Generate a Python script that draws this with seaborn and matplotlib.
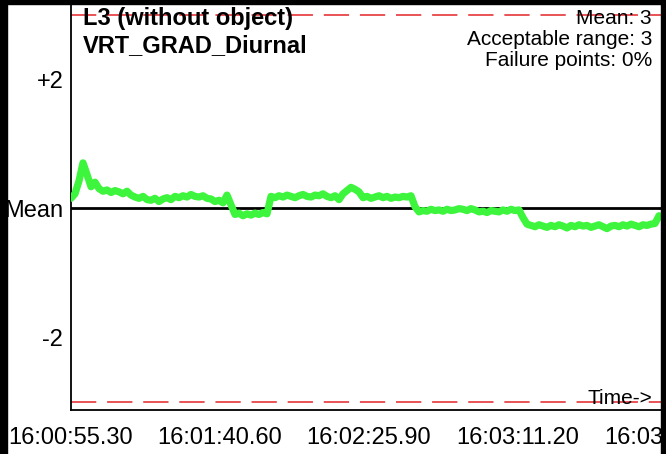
import numpy as np
import pandas as pd
import matplotlib
matplotlib.use("Agg")
import matplotlib.pyplot as plt
from matplotlib.patches import Rectangle
import seaborn as sns

# ---- data ----
title_lines = ["L3 (without object)", "VRT_GRAD_Diurnal"]
info_lines = ["Mean: 3", "Acceptable range: 3", "Failure points: 0%"]
start_s = 55.3            # seconds after 16:00:00
sample_dt = 1.2161        # seconds between samples
values = [
    0.15, 0.22, 0.42, 0.70, 0.52, 0.33, 0.40, 0.30, 0.26, 0.28, 0.24, 0.27, 0.25, 0.22, 0.26,
    0.20, 0.17, 0.15, 0.18, 0.13, 0.12, 0.15, 0.10, 0.14, 0.16, 0.13, 0.18, 0.16, 0.19, 0.17,
    0.21, 0.18, 0.17, 0.19, 0.15, 0.14, 0.10, 0.12, 0.08, 0.20, 0.05, -0.10, -0.08, -0.12, -0.09,
    -0.11, -0.08, -0.10, -0.07, -0.09, 0.18, 0.16, 0.19, 0.17, 0.20, 0.18, 0.16, 0.19, 0.21, 0.18,
    0.17, 0.20, 0.19, 0.22, 0.18, 0.16, 0.19, 0.13, 0.22, 0.27, 0.32, 0.29, 0.25, 0.16, 0.18,
    0.15, 0.17, 0.19, 0.16, 0.18, 0.15, 0.17, 0.16, 0.18, 0.17, 0.19, 0.02, -0.06, -0.04, -0.05,
    -0.02, -0.04, -0.03, -0.05, -0.02, -0.04, -0.03, -0.01, -0.02, -0.04, -0.01, -0.03, -0.06, -0.05, -0.07,
    -0.04, -0.05, -0.06, -0.03, -0.05, -0.02, -0.04, -0.03, -0.15, -0.25, -0.27, -0.29, -0.26, -0.28, -0.30,
    -0.27, -0.29, -0.26, -0.28, -0.31, -0.27, -0.29, -0.26, -0.28, -0.27, -0.30, -0.28, -0.26, -0.29, -0.32,
    -0.28, -0.27, -0.29, -0.26, -0.28, -0.25, -0.27, -0.29, -0.26, -0.27, -0.25, -0.24, -0.12,
]
mean_value = 0.0
acceptable_range = 3.0
y_ticks = [2, 0, -2]
y_tick_labels = ["+2", "Mean", "-2"]
x_ticks = [55.3, 100.6, 145.9, 191.2, 236.5]
x_tick_labels = ["16:00:55.30", "16:01:40.60", "16:02:25.90", "16:03:11.20", "16:03:56.50"]

times = start_s + sample_dt * np.arange(len(values))
df = pd.DataFrame({"time": times, "value": values})

# ---- figure ----
sns.set_style("white")
plt.rcParams["font.family"] = ["Liberation Sans", "DejaVu Sans"]
plt.rcParams["text.color"] = "black"
plt.rcParams["xtick.color"] = "black"
plt.rcParams["ytick.color"] = "black"
plt.rcParams["xtick.labelcolor"] = "black"
plt.rcParams["ytick.labelcolor"] = "black"

W, H = 666, 454
fig = plt.figure(figsize=(W / 100, H / 100), dpi=100)
fig.patch.set_facecolor("white")

ax_left_px, ax_right_px, ax_top_px, ax_bottom_px = 71, 700, 4, 410
ax = fig.add_axes([ax_left_px / W, 1 - ax_bottom_px / H,
                   (ax_right_px - ax_left_px) / W, (ax_bottom_px - ax_top_px) / H])

px_per_s = 149 / 45.3
ax.set_xlim(start_s, start_s + (ax_right_px - ax_left_px) / px_per_s)
px_per_unit = 64.5
ax.set_ylim(-(ax_bottom_px - 208) / px_per_unit, (208 - ax_top_px) / px_per_unit)

# limit lines
for lim in (mean_value + acceptable_range, mean_value - acceptable_range):
    ax.axhline(lim, color="#e8454a", lw=1.3, dashes=(14, 6), zorder=1)
ax.axhline(mean_value, color="black", lw=2.0, zorder=2)

sns.lineplot(data=df, x="time", y="value", ax=ax, color="#3cf53c", lw=5.2, zorder=3)

ax.set_xlabel("")
ax.set_ylabel("")
ax.set_xticks(x_ticks)
ax.set_xticklabels(x_tick_labels, fontsize=17, color="black")
ax.set_yticks(y_ticks)
ax.set_yticklabels(y_tick_labels, fontsize=17, color="black")
ax.tick_params(axis="x", direction="in", length=7, width=1.5, color="black", pad=12)
ax.tick_params(axis="y", direction="inout", length=7, width=1.5, color="black", pad=2)

for s in ("top", "right"):
    ax.spines[s].set_visible(False)
for s in ("left", "bottom"):
    ax.spines[s].set_color("black")
    ax.spines[s].set_linewidth(1.3)

# texts
def fx(px):
    return px / W

def fy(py):
    return 1 - py / H

fig.text(fx(83), fy(18), title_lines[0], fontsize=17, fontweight="bold", va="center", ha="left", color="black")
fig.text(fx(83), fy(46), title_lines[1], fontsize=17, fontweight="bold", va="center", ha="left", color="black")
for i, line in enumerate(info_lines):
    fig.text(fx(652), fy(18 + 21.5 * i), line, fontsize=15, va="center", ha="right", color="black")
fig.text(fx(652), fy(399), "Time->", fontsize=15, va="center", ha="right", color="black")

# black frame pieces
fig.add_artist(Rectangle((0, 0), 7 / W, 1, transform=fig.transFigure, color="black", zorder=10))
fig.add_artist(Rectangle((0, 1 - 4 / H), 1, 4 / H, transform=fig.transFigure, color="black", zorder=10))
fig.add_artist(Rectangle((661 / W, 0), 5 / W, 1, transform=fig.transFigure, color="black", zorder=10))

fig.savefig("out.png", dpi=100)
